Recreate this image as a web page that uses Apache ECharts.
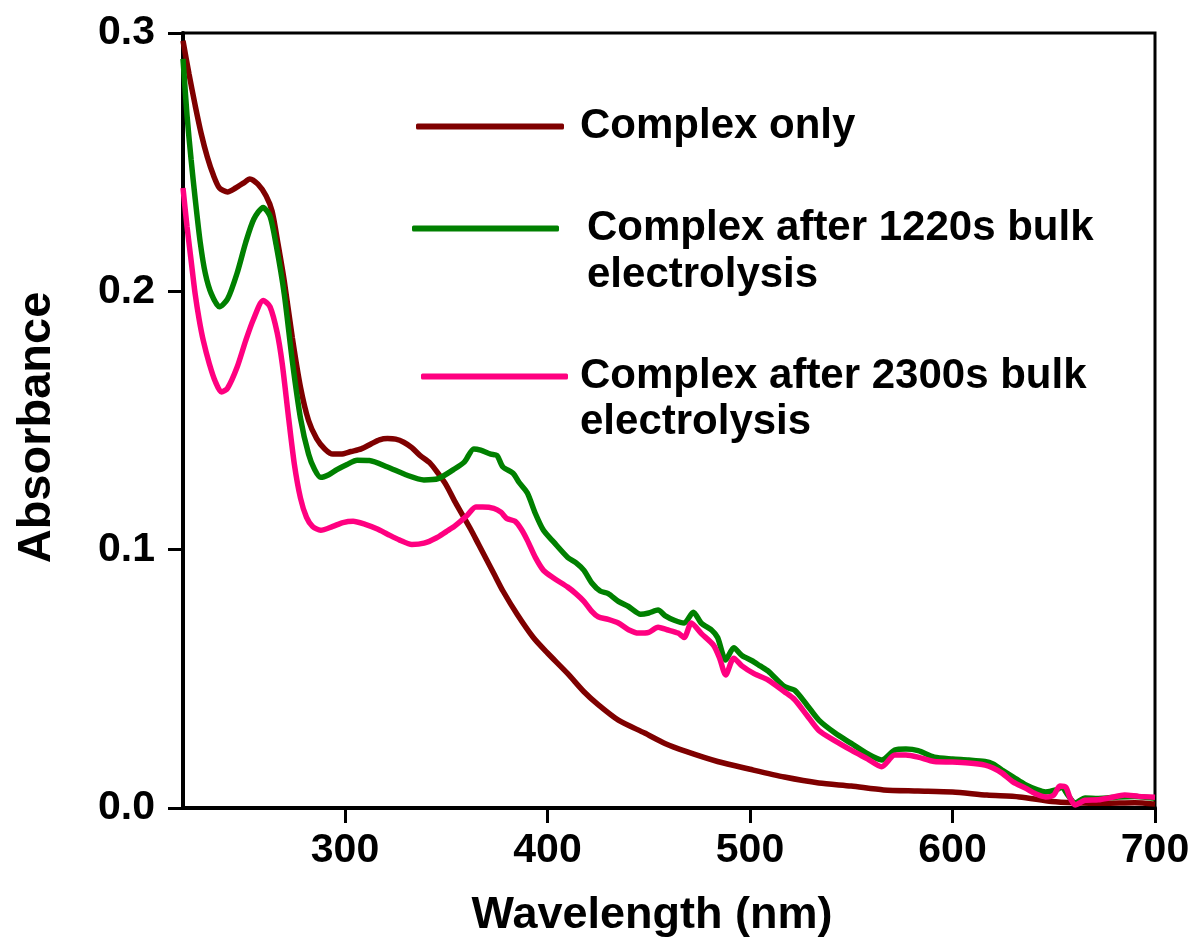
<!DOCTYPE html>
<html>
<head>
<meta charset="utf-8">
<script src="https://cdn.jsdelivr.net/npm/echarts@6/dist/echarts.min.js"></script>
<style>
html,body{margin:0;padding:0;background:#fff;}
#chart{width:1194px;height:947px;}
</style>
</head>
<body>
<div id="chart"></div>
<script>
// ---- data ----
var seriesNames = ['Complex only', 'Complex after 1220s bulk electrolysis', 'Complex after 2300s bulk electrolysis'];
var xTicks = [300, 400, 500, 600, 700];
var yTicks = [0.0, 0.1, 0.2, 0.3];

var wlBrown = [220,223,226,229,232,235,238,242,246,250,253,257,261,264,267,270,274,278,282,286,290,294,298,303,308,313,317,321,325,329,333,337,342,346,350,354,358,362,366,370,374,378,385,393,400,410,418,425,435,448,458,468,484,500,517,534,550,566,583,600,617,633,649,660,675,690,700];
var absBrown = [0.297,0.284,0.272,0.261,0.252,0.245,0.240,0.2385,0.240,0.242,0.2435,0.2415,0.237,0.231,0.218,0.204,0.182,0.163,0.150,0.143,0.139,0.137,0.137,0.138,0.139,0.141,0.1425,0.143,0.1428,0.1416,0.1395,0.1365,0.1335,0.1295,0.125,0.119,0.1135,0.108,0.102,0.096,0.090,0.084,0.075,0.066,0.060,0.052,0.045,0.040,0.034,0.029,0.025,0.022,0.018,0.015,0.012,0.0097,0.0085,0.007,0.0066,0.0062,0.005,0.0043,0.0025,0.002,0.0018,0.002,0.0015];

var wlGreen = [220,222,224,226,228.5,231,234,238,242,246.7,251,255,259.6,263,266,270,274,278,282,285,288,292,296,301,306,312,321,330,339,346,353.6,359,363.6,367,372,375,378,383,386,390,394,398,403,410,414,418,422,426,430,435,440,446,450,454.6,458,462.6,467.5,472,476,481,484,488,492,496,501,505,509,517,522,528,534,542,550,558,565,571.5,577,583,591,600,608,616,620,624.5,630,636,642,646,651,654,657,660.6,665.5,672,682,690,698.7,700];
var absGreen = [0.290,0.268,0.251,0.236,0.219,0.207,0.199,0.194,0.197,0.207,0.219,0.228,0.2325,0.229,0.218,0.199,0.173,0.151,0.137,0.131,0.128,0.129,0.131,0.133,0.1346,0.1345,0.132,0.129,0.127,0.1275,0.131,0.134,0.139,0.1385,0.137,0.1365,0.132,0.1296,0.126,0.122,0.114,0.1075,0.103,0.097,0.095,0.092,0.087,0.084,0.083,0.080,0.078,0.075,0.0755,0.0766,0.0745,0.0727,0.0716,0.0758,0.0715,0.0689,0.066,0.0573,0.062,0.059,0.057,0.055,0.053,0.047,0.0456,0.040,0.034,0.029,0.025,0.021,0.0186,0.0224,0.0228,0.0222,0.0197,0.019,0.0186,0.018,0.017,0.0147,0.012,0.009,0.007,0.0062,0.007,0.008,0.005,0.002,0.0039,0.0037,0.0043,0.0045,0.0039,0.0038];

var wlPink = [220,222,224,226,228,230,233,236,239,242,246.7,251,254.7,259.6,263,266.5,269,272,275,278,281,284,288,294,299,304,310,316,321,327,333,339,345,350,354,360,364.6,368,373.5,377,380,384,387,390,394,398,403,410,414,418,422,425,430,435,440,445,450,454.6,459,464.5,467.5,471,476,482,485,488,492,496,502,509,517,522,528,534,542,550,558,565,571.5,577,583,591,600,608,616,620,624.5,630,636,641,646,650,653,656,658,660.6,665.5,672,678,685,692,700];
var absPink = [0.240,0.225,0.212,0.199,0.189,0.181,0.172,0.165,0.161,0.1625,0.1706,0.181,0.189,0.1965,0.194,0.184,0.172,0.152,0.133,0.120,0.1125,0.109,0.1075,0.109,0.1105,0.111,0.1098,0.108,0.106,0.1037,0.102,0.1025,0.1045,0.107,0.109,0.113,0.1165,0.1165,0.116,0.1145,0.112,0.111,0.108,0.1037,0.097,0.092,0.089,0.0855,0.083,0.080,0.076,0.074,0.073,0.0716,0.069,0.0677,0.068,0.070,0.069,0.0677,0.066,0.0716,0.0675,0.063,0.058,0.0515,0.058,0.055,0.052,0.0495,0.045,0.042,0.036,0.030,0.026,0.0224,0.019,0.016,0.0205,0.0205,0.0197,0.018,0.0178,0.0174,0.0166,0.0155,0.0135,0.010,0.0077,0.0055,0.0043,0.005,0.0085,0.008,0.004,0.0012,0.003,0.0032,0.004,0.005,0.0045,0.0042];

function pairs(xs, ys){ return xs.map(function(x,i){ return [x, ys[i]]; }); }

var FONT = "'Liberation Sans', Arial, sans-serif";
var colors = ['#7F0000', '#008000', '#FF0080'];

var chart = echarts.init(document.getElementById('chart'), null, {renderer:'canvas'});

function legendItem(name, left, top, width, padLeft){
  return {
    data: [name], left: left, top: top, padding: 0, icon: 'roundRect',
    itemWidth: width, itemHeight: 6, selectedMode: false,
    formatter: function(n){ return n.replace(' electrolysis',''); },
    textStyle: {fontSize: 42, fontWeight: 'bold', fontFamily: FONT, color: '#000', lineHeight: 50, padding: [0,0,12,padLeft]}
  };
}

var option = {
  backgroundColor: '#fff',
  animation: false,
  color: colors,
  grid: {left: 183, right: 39, top: 33, bottom: 139, show: true, borderColor: '#000', borderWidth: 3, backgroundColor: 'transparent'},
  legend: [
    legendItem(seriesNames[0], 416, 95.5, 148, 11),
    legendItem(seriesNames[1], 412, 197.5, 147, 23),
    legendItem(seriesNames[2], 421, 345.5, 147, 7)
  ],
  graphic: [
    {type:'text', left: 587, top: 254.5, style:{text:'electrolysis', font:"bold 42px 'Liberation Sans', Arial, sans-serif", fill:'#000'}},
    {type:'text', left: 580, top: 401.5, style:{text:'electrolysis', font:"bold 42px 'Liberation Sans', Arial, sans-serif", fill:'#000'}}
  ],
  xAxis: {
    type: 'value', min: 220, max: 700,
    name: 'Wavelength (nm)', nameLocation: 'middle', nameGap: 85,
    nameTextStyle: {fontSize: 45, fontWeight: 'bold', fontFamily: FONT, color: '#000', padding: [0,34,0,0]},
    axisLine: {show: true, onZero: false, lineStyle: {color: '#000', width: 4}},
    axisTick: {show: true, length: 15, lineStyle: {color: '#000', width: 3}, customValues: xTicks},
    axisLabel: {fontSize: 41, fontWeight: 'bold', fontFamily: FONT, color: '#000', margin: 22, customValues: xTicks},
    splitLine: {show: false}
  },
  yAxis: {
    type: 'value', min: 0, max: 0.3, interval: 0.1,
    name: 'Absorbance', nameLocation: 'middle', nameGap: 122,
    nameTextStyle: {fontSize: 47, fontWeight: 'bold', fontFamily: FONT, color: '#000', padding: [0,14,0,0]},
    axisLine: {show: true, lineStyle: {color: '#000', width: 4}},
    axisTick: {show: true, length: 15, lineStyle: {color: '#000', width: 3}},
    axisLabel: {fontSize: 41, fontWeight: 'bold', fontFamily: FONT, color: '#000', margin: 28,
      formatter: function(v){ return v.toFixed(1); }, customValues: yTicks},
    splitLine: {show: false}
  },
  series: [
    {name: seriesNames[0], type: 'line', data: pairs(wlBrown, absBrown), showSymbol: false, smooth: 0.25, lineStyle: {width: 5.5, color: colors[0]}, itemStyle:{color: colors[0]}, z: 2},
    {name: seriesNames[1], type: 'line', data: pairs(wlGreen, absGreen), showSymbol: false, smooth: 0.25, lineStyle: {width: 5.5, color: colors[1]}, itemStyle:{color: colors[1]}, z: 3},
    {name: seriesNames[2], type: 'line', data: pairs(wlPink, absPink), showSymbol: false, smooth: 0.25, lineStyle: {width: 5.5, color: colors[2]}, itemStyle:{color: colors[2]}, z: 4}
  ]
};
chart.setOption(option);
</script>
</body>
</html>
